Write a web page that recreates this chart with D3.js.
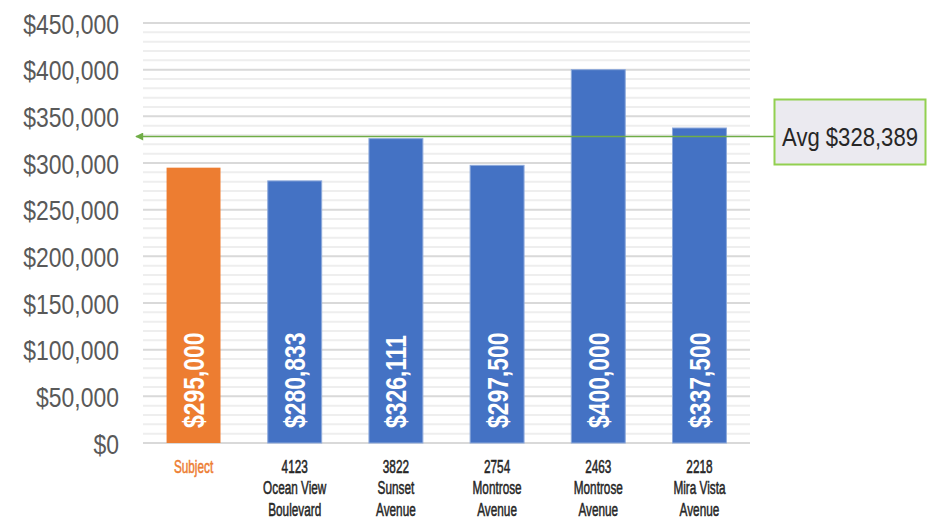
<!DOCTYPE html>
<html><head><meta charset="utf-8">
<script src="https://cdnjs.cloudflare.com/ajax/libs/d3/7.8.5/d3.min.js"></script>
<style>body{margin:0;background:#fff}svg{display:block}</style>
</head><body>
<svg id="c" width="930" height="523"></svg>
<script>
const categories = [
  ["Subject"],
  ["4123","Ocean View","Boulevard"],
  ["3822","Sunset","Avenue"],
  ["2754","Montrose","Avenue"],
  ["2463","Montrose","Avenue"],
  ["2218","Mira Vista","Avenue"]
];
const values = [295000, 280833, 326111, 297500, 400000, 337500];
const isSubject = [true, false, false, false, false, false];
const average = 328389;
const yTicks = [0,50000,100000,150000,200000,250000,300000,350000,400000,450000];
const minorTicks = d3.range(0, 450001, 10000);

const FONT = "'Liberation Sans', Arial, sans-serif";
const svg = d3.select("#c");
const L = 143, R = 750, T = 23, B = 443;
const x = d3.scaleBand().domain(d3.range(categories.length)).range([L, R]).paddingInner(0.467).paddingOuter(0.233);
const y = d3.scaleLinear().domain([0, 450000]).range([B, T]);
const fmt = v => "$" + d3.format(",")(v);

// minor gridlines
svg.append("g").selectAll("line").data(minorTicks.filter(d => d % 50000 !== 0)).join("line")
  .attr("x1", L).attr("x2", R).attr("y1", d => y(d)).attr("y2", d => y(d))
  .attr("stroke", "#eeeeee").attr("stroke-width", 2);
// major gridlines
svg.append("g").selectAll("line").data(yTicks).join("line")
  .attr("x1", L).attr("x2", R).attr("y1", d => y(d)).attr("y2", d => y(d))
  .attr("stroke", "#d9d9d9").attr("stroke-width", 2);

// y axis labels (condensed via horizontal scale)
const yAxis = d3.axisLeft(y).tickValues(yTicks).tickFormat(fmt).tickSize(0).tickPadding(0);
const ya = svg.append("g").attr("transform", `translate(119,0)`).call(yAxis);
ya.select(".domain").remove();
ya.selectAll(".tick text").attr("x", null).attr("dy", null)
  .attr("transform", "translate(0,10) scale(0.85,1)")
  .attr("font-family", FONT).attr("font-size", 27).attr("fill", "#595959");

// bars
svg.append("g").selectAll("rect").data(values).join("rect")
  .attr("x", (d, i) => x(i)).attr("width", x.bandwidth())
  .attr("y", d => y(d)).attr("height", d => B - y(d))
  .attr("fill", (d, i) => isSubject[i] ? "#ED7D31" : "#4472C4")
  .attr("stroke", (d, i) => isSubject[i] ? "none" : "#8eaadb").attr("stroke-width", 1);

// value labels inside bars
svg.append("g").selectAll("text").data(values).join("text")
  .attr("transform", (d, i) => `translate(${x(i) + x.bandwidth()/2 + 10.5},${B - 15}) rotate(-90) scale(0.79,1)`)
  .attr("font-family", FONT)
  .attr("font-weight", "bold").attr("font-size", 29).attr("fill", "#fff")
  .text(d => fmt(d));

// category labels (one text element per category, lines as tspans)
const SY = 0.98;
svg.append("g").selectAll("text").data(categories).join("text")
  .attr("transform", (d, i) => `translate(${x(i) + x.bandwidth()/2},472.5) scale(0.62,${SY})`)
  .attr("text-anchor", "middle")
  .attr("font-family", FONT)
  .attr("font-size", 19)
  .attr("fill", (d, i) => isSubject[i] ? "#ED7D31" : "#262626")
  .attr("stroke", (d, i) => isSubject[i] ? "#ED7D31" : "#262626").attr("stroke-width", 0.55)
  .each(function(lines) {
    const t = d3.select(this);
    lines.forEach((s, j) => {
      t.append("tspan").attr("x", 0).attr("dy", j === 0 ? 0 : 21.8 / SY).text(s);
    });
  });

// average arrow line
const ay = y(average);
svg.append("defs").append("marker").attr("id", "arr").attr("viewBox", "0 0 10 10")
  .attr("refX", 9).attr("refY", 5).attr("markerWidth", 10).attr("markerHeight", 8)
  .attr("markerUnits", "userSpaceOnUse").attr("orient", "auto")
  .append("path").attr("d", "M0,0 L10,5 L0,10 Z").attr("fill", "#70ad47");
svg.append("line").attr("x1", 774).attr("x2", 136).attr("y1", ay).attr("y2", ay)
  .attr("stroke", "#70ad47").attr("stroke-width", 1.5).attr("marker-end", "url(#arr)");

// average box
svg.append("rect").attr("x", 774.5).attr("y", 99.5).attr("width", 151).attr("height", 65)
  .attr("fill", "#ebeaf0").attr("stroke", "#92d050").attr("stroke-width", 2);
svg.append("text").attr("transform", `translate(850,${ay + 9}) scale(0.85,1)`).attr("text-anchor", "middle")
  .attr("font-family", FONT)
  .attr("font-size", 26).attr("fill", "#262626").text("Avg " + fmt(average));
</script>
</body></html>
